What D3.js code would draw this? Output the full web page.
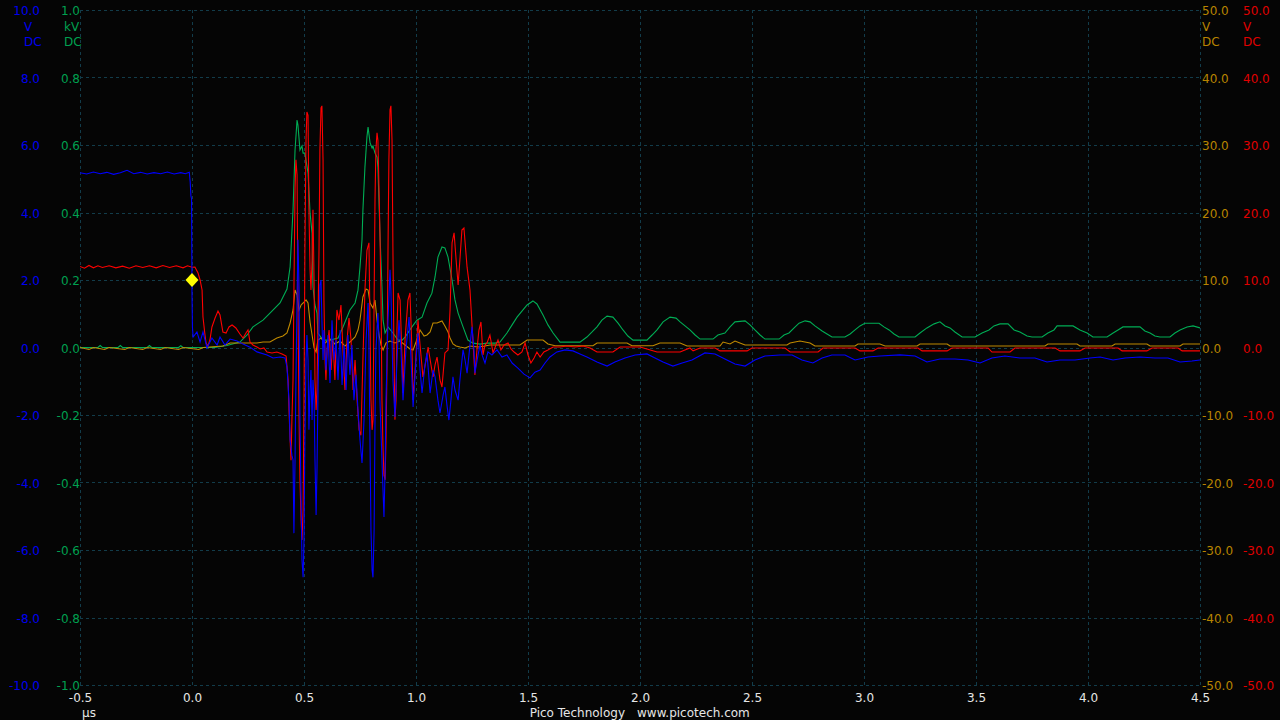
<!DOCTYPE html>
<html>
<head>
<meta charset="utf-8">
<script src="https://cdn.jsdelivr.net/npm/d3@7/dist/d3.min.js"></script>
<style>
  html, body { margin: 0; padding: 0; background: #050505; }
  svg { display: block; }
  text { font-family: "DejaVu Sans", sans-serif; font-size: 12px; }
</style>
</head>
<body>
<svg id="chart" width="1280" height="720"></svg>
<script>
// ---------- tick labels ----------
const timeTicks = [-0.5, 0, 0.5, 1.0, 1.5, 2.0, 2.5, 3.0, 3.5, 4.0, 4.5];
const blueTicks = [-10, -8, -6, -4, -2, 0, 2, 4, 6, 8, 10];
const greenTicks = [-1.0, -0.8, -0.6, -0.4, -0.2, 0, 0.2, 0.4, 0.6, 0.8, 1.0];
const orangeTicks = [-50, -40, -30, -20, -10, 0, 10, 20, 30, 40, 50];
const redTicks = [-50, -40, -30, -20, -10, 0, 10, 20, 30, 40, 50];
const timeUnit = "µs";
const blueUnits = ["V", "DC"];
const greenUnits = ["kV", "DC"];
const orangeUnits = ["V", "DC"];
const redUnits = ["V", "DC"];
const footerLeft = "Pico Technology";
const footerRight = "www.picotech.com";
const trigger = [0, 2.0]; // time (µs), level (V on channel A)

// ---------- series: [time µs, value] ----------
const blueData = [[-0.5,5.18],[-0.47,5.14],[-0.44,5.2],[-0.41,5.15],[-0.38,5.19],[-0.35,5.13],[-0.32,5.18],[-0.29,5.25],[-0.26,5.15],[-0.23,5.19],[-0.2,5.14],[-0.17,5.18],[-0.14,5.15],[-0.11,5.2],[-0.08,5.14],[-0.05,5.18],[-0.03,5.15],[-0.012,5.19],
[-0.008,4.9],[-0.005,4.5],[-0.002,4.4],[0.0,1.6],[0.002,0.6],[0.005,0.31],[0.022,0.46],[0.036,0.16],[0.049,0.46],[0.067,-0.01],[0.089,0.28],[0.112,0.07],[0.125,0.31],[0.147,0.07],[0.17,0.25],[0.201,0.19],[0.228,0.1],[0.259,0.01],[0.29,-0.13],[0.335,-0.22],[0.362,-0.31],[0.393,-0.28],[0.415,-0.31],[0.424,-0.58],[0.433,-1.56],[0.438,-2.74],[0.446,-3.19],[0.451,-3.33],[0.455,-5.5],[0.46,-3.33],[0.464,-0.96],[0.469,1.41],[0.473,3.19],[0.478,1.7],[0.482,-2.15],[0.487,-4.52],[0.491,-6.3],[0.496,-6.81],[0.5,-5.7],[0.504,-2.74],[0.509,-0.37],[0.513,0.37],[0.518,-0.37],[0.522,-2.44],[0.527,-1.26],[0.531,-0.67],[0.536,-2.15],[0.54,-0.96],[0.545,-1.56],[0.549,-3.33],[0.554,-4.96],[0.558,-3.63],[0.562,-1.56],[0.567,0.52],[0.571,1.85],[0.576,2.0],[0.58,0.81],[0.585,-0.37],[0.589,0.52],[0.598,-0.67],[0.607,0.37],[0.616,-1.05],[0.625,0.81],[0.634,-0.37],[0.643,0.22],[0.652,-0.96],[0.661,0.52],[0.67,-1.11],[0.679,0.07],[0.688,-1.26],[0.696,0.37],[0.705,-0.81],[0.714,0.07],[0.723,-1.56],[0.732,-0.81],[0.741,-1.85],[0.75,-2.74],[0.759,-3.42],[0.768,-2.15],[0.777,0.22],[0.786,1.32],[0.79,-0.07],[0.795,-3.04],[0.799,-5.41],[0.804,-6.59],[0.808,-6.81],[0.813,-5.41],[0.817,-2.15],[0.821,-0.07],[0.83,1.02],[0.835,0.22],[0.839,-1.56],[0.848,-3.33],[0.857,-5.02],[0.862,-3.63],[0.866,-1.56],[0.875,0.81],[0.884,2.3],[0.888,1.7],[0.897,-0.96],[0.906,-2.06],[0.915,-0.37],[0.924,0.81],[0.933,-0.07],[0.942,-1.56],[0.955,-0.07],[0.969,0.9],[0.978,-0.37],[0.987,-1.76],[1.0,-0.37],[1.009,0.43],[1.018,-0.67],[1.027,-1.35],[1.04,-0.52],[1.049,-0.16],[1.063,-1.35],[1.076,-0.67],[1.085,-0.87],[1.098,-1.56],[1.107,-1.94],[1.121,-1.41],[1.129,-1.17],[1.138,-1.7],[1.147,-2.15],[1.156,-1.56],[1.165,-0.87],[1.174,-1.26],[1.188,-1.56],[1.196,-0.96],[1.21,-0.07],[1.219,-0.37],[1.228,-0.76],[1.241,0.07],[1.25,0.61],[1.259,-0.07],[1.263,-0.76],[1.277,-0.22],[1.286,0.07],[1.295,-0.22],[1.308,-0.46],[1.321,-0.13],[1.339,-0.22],[1.362,-0.07],[1.384,-0.28],[1.406,-0.22],[1.429,-0.46],[1.455,-0.61],[1.482,-0.79],[1.509,-0.9],[1.531,-0.73],[1.554,-0.67],[1.576,-0.46],[1.598,-0.28],[1.629,-0.13],[1.665,-0.07],[1.701,-0.1],[1.732,-0.19],[1.763,-0.28],[1.808,-0.43],[1.853,-0.55],[1.888,-0.43],[1.933,-0.31],[1.978,-0.22],[2.031,-0.19],[2.067,-0.31],[2.103,-0.43],[2.147,-0.55],[2.188,-0.46],[2.232,-0.37],[2.29,-0.16],[2.335,-0.19],[2.379,-0.34],[2.424,-0.49],[2.469,-0.55],[2.513,-0.37],[2.558,-0.25],[2.625,-0.22],[2.679,-0.22],[2.723,-0.37],[2.772,-0.46],[2.813,-0.31],[2.857,-0.22],[2.915,-0.22],[2.96,-0.37],[3.018,-0.28],[3.071,-0.25],[3.161,-0.22],[3.228,-0.25],[3.281,-0.43],[3.339,-0.34],[3.406,-0.34],[3.464,-0.37],[3.518,-0.46],[3.571,-0.31],[3.629,-0.25],[3.696,-0.31],[3.763,-0.31],[3.817,-0.43],[3.875,-0.37],[3.942,-0.37],[4.009,-0.31],[4.054,-0.28],[4.112,-0.37],[4.165,-0.31],[4.232,-0.28],[4.299,-0.31],[4.357,-0.31],[4.411,-0.43],[4.464,-0.4],[4.5,-0.37]];

const greenData = [[-0.5,0],[-0.42,0],[-0.41,0.006],[-0.4,0],[-0.33,0],[-0.32,0.006],[-0.31,0],[-0.2,0],[-0.19,0.006],[-0.18,0],[-0.06,0],[-0.05,0.005],[-0.04,0],[0.1,0],[0.156,0.006],[0.214,0.016],[0.246,0.037],[0.272,0.061],[0.317,0.081],[0.348,0.102],[0.393,0.132],[0.424,0.173],[0.438,0.239],[0.451,0.407],[0.46,0.585],[0.469,0.674],[0.473,0.659],[0.482,0.585],[0.491,0.597],[0.496,0.576],[0.504,0.576],[0.518,0.517],[0.527,0.399],[0.536,0.339],[0.54,0.179],[0.549,0.126],[0.558,0.102],[0.562,0.043],[0.585,0.022],[0.616,0.022],[0.652,0.028],[0.674,0.061],[0.705,0.111],[0.728,0.132],[0.741,0.17],[0.75,0.239],[0.759,0.319],[0.763,0.407],[0.772,0.534],[0.781,0.624],[0.786,0.653],[0.795,0.606],[0.804,0.591],[0.808,0.597],[0.817,0.576],[0.826,0.564],[0.83,0.534],[0.839,0.339],[0.848,0.179],[0.853,0.081],[0.862,0.043],[0.875,0.061],[0.897,0.043],[0.92,0.022],[0.938,0.022],[0.951,0.031],[0.982,0.061],[1.004,0.081],[1.027,0.09],[1.049,0.132],[1.071,0.161],[1.085,0.209],[1.098,0.268],[1.116,0.298],[1.129,0.295],[1.143,0.268],[1.161,0.2],[1.174,0.141],[1.188,0.102],[1.21,0.061],[1.232,0.022],[1.254,0.013],[1.286,0.01],[1.317,0.013],[1.353,0.013],[1.375,0.016],[1.406,0.043],[1.429,0.067],[1.451,0.09],[1.473,0.108],[1.496,0.126],[1.522,0.138],[1.54,0.129],[1.567,0.096],[1.589,0.067],[1.612,0.043],[1.643,0.016],[1.688,0.016],[1.732,0.016],[1.763,0.031],[1.786,0.046],[1.808,0.061],[1.83,0.081],[1.853,0.093],[1.879,0.09],[1.902,0.072],[1.924,0.052],[1.946,0.034],[1.969,0.022],[2.0,0.022],[2.031,0.022],[2.054,0.037],[2.076,0.052],[2.103,0.076],[2.134,0.09],[2.161,0.087],[2.179,0.076],[2.201,0.064],[2.223,0.052],[2.246,0.037],[2.268,0.025],[2.326,0.025],[2.348,0.037],[2.379,0.043],[2.402,0.061],[2.424,0.076],[2.469,0.079],[2.491,0.067],[2.513,0.052],[2.536,0.037],[2.558,0.025],[2.621,0.025],[2.643,0.037],[2.665,0.043],[2.688,0.058],[2.71,0.072],[2.737,0.079],[2.759,0.076],[2.781,0.064],[2.813,0.049],[2.835,0.04],[2.857,0.031],[2.915,0.031],[2.938,0.04],[2.96,0.052],[2.982,0.064],[3.004,0.072],[3.067,0.072],[3.089,0.061],[3.112,0.052],[3.134,0.04],[3.156,0.031],[3.228,0.031],[3.25,0.043],[3.281,0.058],[3.313,0.07],[3.339,0.076],[3.362,0.064],[3.384,0.058],[3.406,0.046],[3.438,0.031],[3.496,0.031],[3.527,0.043],[3.558,0.052],[3.58,0.064],[3.607,0.07],[3.643,0.07],[3.67,0.052],[3.696,0.046],[3.728,0.034],[3.75,0.031],[3.795,0.031],[3.821,0.043],[3.848,0.052],[3.862,0.064],[3.933,0.064],[3.964,0.052],[3.996,0.043],[4.022,0.031],[4.085,0.031],[4.112,0.043],[4.134,0.052],[4.156,0.061],[4.232,0.061],[4.254,0.049],[4.277,0.043],[4.299,0.034],[4.321,0.031],[4.366,0.031],[4.388,0.043],[4.411,0.052],[4.442,0.061],[4.469,0.064],[4.5,0.058]];

const orangeData = [[-0.5,0],[-0.46,-0.3],[-0.44,0],[-0.39,-0.3],[-0.37,0],[-0.3,-0.3],[-0.28,0],[-0.22,-0.3],[-0.2,0],[-0.14,-0.3],[-0.12,0],[-0.06,-0.3],[-0.04,0],[0.03,-0.3],[0.05,0],[0.138,0.22],[0.17,0.67],[0.29,0.67],[0.317,0.81],[0.348,0.81],[0.379,1.41],[0.406,1.7],[0.424,2.15],[0.438,3.63],[0.451,5.56],[0.46,8.52],[0.469,7.78],[0.478,5.56],[0.487,6.3],[0.496,6.59],[0.509,7.04],[0.518,6.59],[0.527,3.78],[0.536,1.85],[0.545,-0.07],[0.554,-0.67],[0.562,1.11],[0.576,1.41],[0.594,0.67],[0.616,1.26],[0.638,0.52],[0.661,0.96],[0.683,0.22],[0.705,0.81],[0.728,1.56],[0.741,2.59],[0.75,4.07],[0.763,7.48],[0.777,8.67],[0.786,8.52],[0.795,6.59],[0.808,5.85],[0.817,7.04],[0.826,4.07],[0.835,1.85],[0.844,0.37],[0.853,-0.37],[0.866,0.67],[0.884,0.96],[0.906,0.67],[0.929,0.96],[0.951,0.37],[0.973,-0.22],[0.987,-0.37],[1.0,0.81],[1.018,2.59],[1.036,1.7],[1.049,1.85],[1.063,2.3],[1.076,3.63],[1.094,3.63],[1.116,3.93],[1.129,3.19],[1.143,2.3],[1.152,1.41],[1.165,0.52],[1.179,0.22],[1.196,0.07],[1.219,-0.07],[1.241,0.22],[1.277,0.07],[1.308,0.22],[1.33,0.37],[1.375,0.37],[1.42,0.37],[1.464,0.37],[1.496,1.11],[1.567,1.11],[1.589,0.52],[1.621,0.27],[1.79,0.27],[1.808,0.67],[1.942,0.67],[1.964,0.27],[2.058,0.27],[2.089,0.67],[2.179,0.67],[2.21,0.22],[2.357,0.22],[2.371,0.81],[2.402,0.52],[2.424,0.96],[2.446,0.67],[2.469,0.37],[2.656,0.37],[2.67,0.67],[2.714,0.96],[2.759,0.67],[2.781,0.22],[2.96,0.22],[2.973,0.52],[3.071,0.52],[3.094,0.22],[3.237,0.22],[3.25,0.52],[3.371,0.52],[3.384,0.22],[3.808,0.22],[3.821,0.52],[3.951,0.52],[3.964,0.22],[4.107,0.22],[4.121,0.52],[4.263,0.52],[4.277,0.22],[4.411,0.22],[4.424,0.52],[4.5,0.52]];

const redData = [[-0.5,12.0],[-0.48,11.75],[-0.46,12.15],[-0.44,11.8],[-0.42,12.1],[-0.4,11.85],[-0.37,12.1],[-0.34,11.8],[-0.31,12.05],[-0.28,11.75],[-0.25,12.1],[-0.22,11.85],[-0.19,12.1],[-0.16,11.8],[-0.13,12.15],[-0.1,11.85],[-0.07,12.1],[-0.04,11.8],[-0.02,12.1],[0.0,11.9],[0.013,11.93],[0.027,11.04],[0.036,10.0],[0.045,8.52],[0.049,4.52],[0.058,1.85],[0.063,0.67],[0.071,0.22],[0.08,1.11],[0.089,3.04],[0.103,4.37],[0.116,5.41],[0.125,4.81],[0.138,2.3],[0.152,2.15],[0.165,3.04],[0.179,3.33],[0.196,2.89],[0.214,2.0],[0.228,1.41],[0.241,2.15],[0.25,2.59],[0.259,0.81],[0.272,0.37],[0.29,0.07],[0.304,-0.22],[0.321,-0.07],[0.335,-0.67],[0.357,-0.81],[0.379,-0.67],[0.402,-0.96],[0.42,-1.26],[0.429,-4.81],[0.433,-9.26],[0.438,-13.7],[0.442,-16.7],[0.446,-10.7],[0.451,-4.81],[0.455,8.52],[0.46,23.3],[0.464,27.8],[0.469,25.6],[0.473,7.04],[0.478,-10.7],[0.482,-19.6],[0.487,-25.6],[0.491,-28.5],[0.496,-24.1],[0.5,-7.78],[0.504,14.4],[0.509,30.7],[0.513,34.9],[0.518,34.4],[0.522,20.4],[0.527,11.5],[0.531,8.52],[0.536,13.0],[0.54,20.4],[0.545,10.0],[0.549,-4.81],[0.554,-9.26],[0.558,-6.3],[0.562,2.59],[0.567,14.4],[0.571,29.3],[0.576,35.5],[0.58,35.8],[0.585,27.8],[0.589,7.04],[0.594,-1.85],[0.598,-4.81],[0.603,-0.37],[0.612,2.59],[0.621,-3.33],[0.629,1.11],[0.638,-4.81],[0.647,5.56],[0.656,4.07],[0.665,6.3],[0.674,-0.37],[0.683,-6.3],[0.692,1.11],[0.701,4.37],[0.71,1.11],[0.719,-6.3],[0.728,-1.85],[0.737,-7.78],[0.746,-12.2],[0.754,-13.0],[0.763,-1.85],[0.772,8.52],[0.781,14.4],[0.79,15.5],[0.795,2.59],[0.799,-7.78],[0.804,-12.2],[0.808,-10.7],[0.813,7.04],[0.817,21.9],[0.821,29.3],[0.826,31.8],[0.83,30.7],[0.835,23.3],[0.839,17.0],[0.844,7.04],[0.848,-7.78],[0.853,-15.2],[0.857,-18.9],[0.862,-19.6],[0.866,-13.7],[0.871,-1.85],[0.875,14.4],[0.879,27.8],[0.884,35.2],[0.888,35.8],[0.893,30.7],[0.897,14.4],[0.902,-1.85],[0.906,-10.7],[0.911,-7.78],[0.915,2.59],[0.92,8.07],[0.929,7.04],[0.938,-1.85],[0.942,-6.74],[0.951,1.11],[0.964,7.04],[0.973,8.07],[0.982,-0.37],[0.987,-7.78],[0.996,-3.33],[1.009,4.07],[1.018,0.37],[1.031,-4.37],[1.045,-1.85],[1.054,0.07],[1.067,-2.59],[1.076,-4.37],[1.085,-2.59],[1.094,-1.41],[1.107,-4.81],[1.116,-5.85],[1.129,-0.81],[1.143,-0.37],[1.152,5.56],[1.161,15.5],[1.17,17.0],[1.179,13.0],[1.188,9.26],[1.196,13.0],[1.205,17.4],[1.214,17.7],[1.228,11.9],[1.241,8.52],[1.254,1.11],[1.263,-4.07],[1.272,-0.37],[1.281,2.59],[1.29,3.78],[1.299,-1.11],[1.308,0.37],[1.317,0.67],[1.33,1.85],[1.344,-0.81],[1.357,0.37],[1.366,1.11],[1.379,-0.37],[1.393,0.37],[1.411,0.67],[1.424,-0.22],[1.438,-0.67],[1.455,-1.11],[1.473,-0.67],[1.487,0.67],[1.5,-1.11],[1.513,-2.3],[1.527,-1.56],[1.54,-0.67],[1.554,-1.41],[1.571,-0.67],[1.589,-0.37],[1.612,0.07],[1.643,0.07],[1.674,0.22],[1.71,0.07],[1.746,0.22],[1.777,-0.07],[1.808,-0.67],[1.844,-0.67],[1.879,-0.67],[1.911,0.07],[1.955,0.07],[2.0,0.07],[2.031,-0.22],[2.076,-0.67],[2.134,-0.67],[2.179,-0.67],[2.223,-0.07],[2.237,-0.5],[2.268,-0.07],[2.335,-0.07],[2.357,-0.5],[2.478,-0.5],[2.5,-0.07],[2.647,-0.07],[2.67,-0.67],[2.795,-0.67],[2.817,-0.07],[2.96,-0.07],[2.982,-0.5],[3.04,-0.5],[3.063,-0.07],[3.241,-0.07],[3.259,-0.5],[3.371,-0.5],[3.393,-0.07],[3.554,-0.07],[3.571,-0.67],[3.652,-0.67],[3.674,-0.07],[3.853,-0.07],[3.875,-0.5],[3.964,-0.5],[3.987,-0.07],[4.134,-0.07],[4.152,-0.5],[4.263,-0.5],[4.286,-0.07],[4.402,-0.07],[4.42,-0.5],[4.5,-0.5]];

// ---------- styles ----------
const colors = { blue: "#0000ff", green: "#00ad55", orange: "#c08a00", red: "#ff0000" };
const textColors = { blue: "#0000f0", green: "#00a050", orange: "#b88400", red: "#e00000" };
const gridColor = "#123c4a";

const svg = d3.select("#chart");
svg.append("rect").attr("width", 1280).attr("height", 720).attr("fill", "#050505");

const plotL = 80, plotR = 1200, plotT = 10, plotB = 685;
const x = d3.scaleLinear().domain([-0.5, 4.5]).range([plotL, plotR]);
const yBlue = d3.scaleLinear().domain([-10, 10]).range([plotB, plotT]);
const yGreen = d3.scaleLinear().domain([-1, 1]).range([plotB, plotT]);
const yOrange = d3.scaleLinear().domain([-50, 50]).range([plotB, plotT]);
const yRed = d3.scaleLinear().domain([-50, 50]).range([plotB, plotT]);

// grid
const grid = svg.append("g").attr("stroke", gridColor).attr("stroke-width", 1)
  .attr("stroke-dasharray", "3,3").attr("shape-rendering", "crispEdges");
grid.selectAll("line.v").data(timeTicks).join("line").attr("class", "v")
  .attr("x1", d => Math.round(x(d)) + 0.5).attr("x2", d => Math.round(x(d)) + 0.5)
  .attr("y1", plotT).attr("y2", plotB);
grid.selectAll("line.h").data(blueTicks).join("line").attr("class", "h")
  .attr("y1", d => Math.round(yBlue(d)) + 0.5).attr("y2", d => Math.round(yBlue(d)) + 0.5)
  .attr("x1", plotL).attr("x2", plotR);

// traces
svg.append("clipPath").attr("id", "clip").append("rect")
  .attr("x", plotL).attr("y", plotT).attr("width", plotR - plotL).attr("height", plotB - plotT + 1);
const traces = svg.append("g").attr("clip-path", "url(#clip)");
function trace(data, yScale, color) {
  const line = d3.line().x(d => x(d[0])).y(d => yScale(d[1]));
  traces.append("path").datum(data).attr("d", line)
    .attr("fill", "none").attr("stroke", color).attr("stroke-width", 1.1)
    .attr("stroke-linejoin", "miter");
}
trace(greenData, yGreen, colors.green);
trace(orangeData, yOrange, colors.orange);
trace(redData, yRed, colors.red);
trace(blueData, yBlue, colors.blue);

// trigger marker
const tx = x(trigger[0]), ty = yBlue(trigger[1]);
svg.append("path")
  .attr("d", `M${tx},${ty - 7}L${tx + 6.5},${ty}L${tx},${ty + 7}L${tx - 6.5},${ty}Z`)
  .attr("fill", "#ffff00");

// axes (plain hyphen-minus like the original)
const fmt = d => (Math.abs(d) < 1e-9 ? 0 : d).toFixed(1);
function yAxis(scale, ticks, xpos, color, orient) {
  const ax = (orient === "left" ? d3.axisLeft(scale) : d3.axisRight(scale))
    .tickValues(ticks).tickFormat(fmt).tickSize(0).tickPadding(0);
  const g = svg.append("g").attr("transform", `translate(${xpos},1)`).call(ax);
  g.select(".domain").remove();
  g.selectAll("text").attr("fill", color).style("font-family", "DejaVu Sans").style("font-size", "12px");
}
yAxis(yBlue, blueTicks, 40, textColors.blue, "left");
yAxis(yGreen, greenTicks, 80, textColors.green, "left");
yAxis(yOrange, orangeTicks, 1202, textColors.orange, "right");
yAxis(yRed, redTicks, 1243, textColors.red, "right");

const xAx = d3.axisBottom(x).tickValues(timeTicks).tickFormat(fmt).tickSize(0).tickPadding(8.5);
const xg = svg.append("g").attr("transform", `translate(0,${plotB})`).call(xAx);
xg.select(".domain").remove();
xg.selectAll("text").attr("fill", "#e6e6e6").style("font-family", "DejaVu Sans").style("font-size", "12px");

// units
function units(list, xpos, color) {
  list.forEach((u, i) => {
    svg.append("text").attr("x", xpos).attr("y", 31 + i * 15).attr("fill", color).text(u);
  });
}
units(blueUnits, 24, textColors.blue);
units(greenUnits, 64, textColors.green);
units(orangeUnits, 1202, textColors.orange);
units(redUnits, 1243, textColors.red);

svg.append("text").attr("x", 82).attr("y", 717).attr("fill", "#e6e6e6").text(timeUnit);
svg.append("text").attr("x", 625).attr("y", 717).attr("text-anchor", "end").attr("fill", "#e6e6e6").text(footerLeft);
svg.append("text").attr("x", 637).attr("y", 717).attr("fill", "#e6e6e6").text(footerRight);
</script>
</body>
</html>
